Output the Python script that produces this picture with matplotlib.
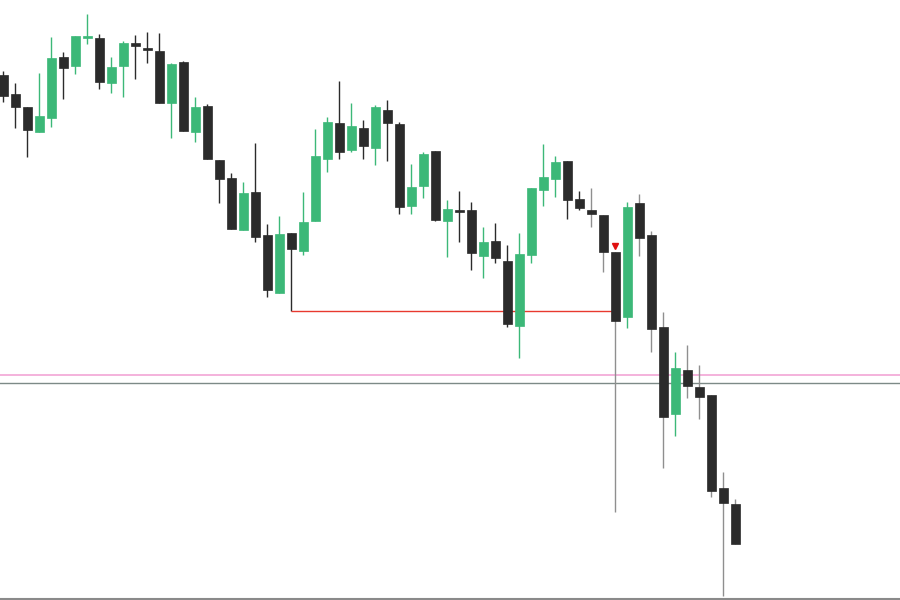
import numpy as np
import matplotlib
matplotlib.use('Agg')
import matplotlib.pyplot as plt

# OHLC (price units)
opens = [525, 506, 493, 468, 482, 543, 534, 562.5, 562, 517, 534, 557, 552, 549, 497, 538,
         468, 494, 440, 422, 370, 408, 365, 307, 367, 349, 379, 441, 477, 450, 472, 452,
         490, 476, 394, 414, 449, 379, 389.5, 390, 344, 359, 339, 274, 345, 410, 421, 439,
         401, 390, 385, 348, 283, 397, 365, 273, 186, 230, 213, 205, 112, 96]
highs = [529, 517, 493, 527, 563, 548, 564, 586, 566, 543, 559, 565, 568, 567, 537, 539,
         503, 496, 440, 427, 418, 457, 376, 384, 367, 408, 471, 483, 519, 497, 480, 495,
         500, 478, 436, 448, 449, 400, 409, 398, 373, 377, 355, 367, 412, 456, 444, 439,
         409, 412, 385, 348, 398, 406, 369, 288, 248, 255, 235, 205, 128, 101]
lows = [498, 472, 443, 468, 473, 501, 526, 556, 511, 507, 503, 521, 537, 497, 462, 469,
        458, 441, 397, 371, 370, 358, 303, 307, 289, 345, 379, 428, 441, 448, 441, 435,
        439, 386, 386, 402, 379, 343, 358, 330, 322, 337, 273, 242, 337, 394, 403, 381,
        390, 373, 328, 88, 272, 344, 248, 132, 164, 202, 181, 103, 4, 56]
closes = [504, 493, 470, 484, 542, 532, 564, 563, 518, 533, 557, 554, 550, 497, 536, 469,
          493, 441, 421, 371, 407, 363, 310, 366, 351, 378, 444, 478, 448, 474, 454, 493,
          477, 393, 413, 446, 380, 391, 388.5, 347, 358, 342, 276, 346, 412, 423, 438, 400,
          392, 386, 348, 279, 393, 362, 271, 183, 232, 214, 203, 109, 97, 56]

pink_level = 225
gray_level = 217
red_level = 289
red_start, red_end = 24, 51
signal_idx = 51
signal_price = 354

green = '#3cb878'
dark = '#2b2b2b'

fig = plt.figure(figsize=(9, 6), dpi=100)
ax = fig.add_axes([0, 0, 1, 1])

ax.axhline(pink_level, color='#f2a6d6', lw=1.2, zorder=1)
ax.axhline(gray_level, color='#7d8a87', lw=1.0, zorder=1)
ax.axhline(1, color='#8a8a8a', lw=1.5, zorder=1)

x = np.arange(len(opens))
for i in x:
    o, h, l, c = opens[i], highs[i], lows[i], closes[i]
    up = c > o
    col = green if up else dark
    wick = col if (up or i < 49) else '#8f8f8f'
    ax.vlines(i, l, h, color=wick, lw=1, zorder=2)
    body = max(abs(c - o), 1.5)
    ax.bar(i, body, bottom=min(o, c), width=0.75, color=col,
           edgecolor=col, linewidth=0.5, zorder=3)

# swing-low level line and signal marker
ax.hlines(red_level, red_start, red_end, color='#e8392f', lw=1.0, zorder=2)
ax.plot([signal_idx], [signal_price], marker='v', color='#e01010', markersize=5, zorder=4)

ax.set_xlim(-0.25, 74.75)
ax.set_ylim(0, 600)
ax.axis('off')

fig.savefig('out.png', dpi=100, facecolor='white')
